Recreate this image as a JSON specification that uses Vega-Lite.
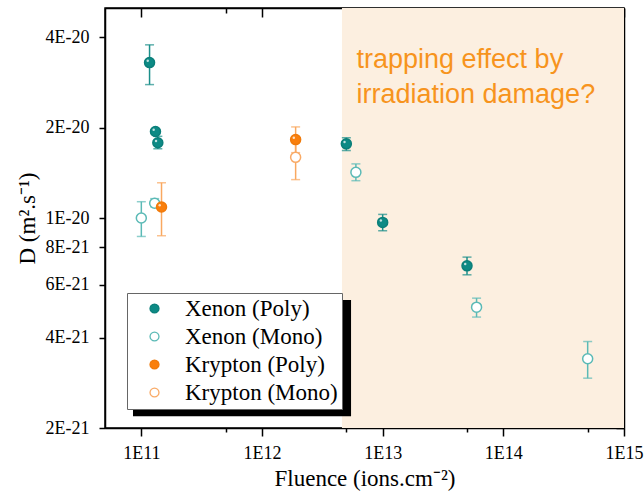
{
  "$schema": "https://vega.github.io/schema/vega-lite/v6.json",
  "width": 519,
  "height": 420,
  "autosize": "none",
  "padding": {"left": 105, "top": 8, "right": 20, "bottom": 63},
  "background": "white",
  "config": {
    "view": {"stroke": "black", "strokeWidth": 1.5},
    "font": "Liberation Serif",
    "axis": {
      "grid": false,
      "domainColor": "black",
      "domainWidth": 1.5,
      "tickColor": "black",
      "tickWidth": 1.5,
      "labelFont": "Liberation Serif",
      "labelFontSize": 18,
      "labelColor": "black",
      "titleFont": "Liberation Serif",
      "titleFontSize": 23,
      "titleFontWeight": "normal",
      "titleColor": "black"
    }
  },
  "datasets": {
    "pts": [
      {"series": "Xenon (Poly)", "F": 1.17e11, "D": 3.29e-20, "lo": 2.78e-20, "hi": 3.77e-20},
      {"series": "Xenon (Poly)", "F": 1.31e11, "D": 1.94e-20, "lo": 1.90e-20, "hi": 1.98e-20},
      {"series": "Xenon (Poly)", "F": 1.37e11, "D": 1.78e-20, "lo": 1.70e-20, "hi": 1.87e-20},
      {"series": "Xenon (Poly)", "F": 5.0e12, "D": 1.765e-20, "lo": 1.677e-20, "hi": 1.85e-20},
      {"series": "Xenon (Poly)", "F": 1.0e13, "D": 9.67e-21, "lo": 9.07e-21, "hi": 1.028e-20},
      {"series": "Xenon (Poly)", "F": 5.0e13, "D": 6.93e-21, "lo": 6.47e-21, "hi": 7.41e-21},
      {"series": "Xenon (Mono)", "F": 1.0e11, "D": 1.0e-20, "lo": 8.68e-21, "hi": 1.133e-20},
      {"series": "Xenon (Mono)", "F": 1.29e11, "D": 1.12e-20, "lo": 1.09e-20, "hi": 1.16e-20},
      {"series": "Xenon (Mono)", "F": 6.0e12, "D": 1.419e-20, "lo": 1.331e-20, "hi": 1.514e-20},
      {"series": "Xenon (Mono)", "F": 6.0e13, "D": 5.05e-21, "lo": 4.68e-21, "hi": 5.41e-21},
      {"series": "Xenon (Mono)", "F": 5.0e14, "D": 3.40e-21, "lo": 2.93e-21, "hi": 3.88e-21},
      {"series": "Krypton (Mono)", "F": 1.9e12, "D": 1.592e-20, "lo": 1.342e-20, "hi": 1.80e-20},
      {"series": "Krypton (Poly)", "F": 1.47e11, "D": 1.088e-20, "lo": 8.73e-21, "hi": 1.31e-20},
      {"series": "Krypton (Poly)", "F": 1.9e12, "D": 1.824e-20, "lo": 1.65e-20, "hi": 2.01e-20}
    ],
    "region": [{"x0": 4.6e12, "x1": 1e15, "y0": 2e-21, "y1": 5e-20}],
    "shadow": [{"x0": 8.53e10, "x1": 5.47e12, "y0": 2.19e-21, "y1": 5.33e-21}],
    "note": [{"F": 6.07e12, "D": 3.16e-20, "label": ["trapping effect by", "irradiation damage?"]}]
  },
  "resolve": {"axis": {"x": "independent", "y": "independent"}, "scale": {"color": "independent"}},
  "layer": [
    {
      "data": {"name": "region"},
      "mark": {"type": "rect", "color": "#fcefe0"},
      "encoding": {
        "x": {"field": "x0", "type": "quantitative",
          "scale": {"type": "log", "domain": [5e10, 1e15], "nice": false},
          "axis": {"orient": "top", "labels": false, "title": null,
            "values": [1e11, 5e11, 1e12, 5e12, 1e13, 5e13, 1e14, 5e14, 1e15],
            "tickSize": {"condition": {"test": "abs(log(datum.value)/LN10 - round(log(datum.value)/LN10)) < 0.01", "value": -9}, "value": -5}}},
        "x2": {"field": "x1"},
        "y": {"field": "y0", "type": "quantitative",
          "scale": {"type": "log", "domain": [2e-21, 5e-20], "nice": false},
          "axis": {"orient": "right", "labels": false, "title": null,
            "values": [2e-21, 4e-21, 6e-21, 8e-21, 1e-20, 2e-20, 4e-20], "tickSize": -8}},
        "y2": {"field": "y1"}
      }
    },
    {
      "data": {"name": "shadow"},
      "mark": {"type": "rect", "color": "black"},
      "encoding": {
        "x": {"field": "x0", "type": "quantitative", "scale": {"type": "log", "domain": [5e10, 1e15], "nice": false}, "axis": null},
        "x2": {"field": "x1"},
        "y": {"field": "y0", "type": "quantitative", "scale": {"type": "log", "domain": [2e-21, 5e-20], "nice": false}, "axis": null},
        "y2": {"field": "y1"}
      }
    },
    {
      "data": {"name": "note"},
      "mark": {"type": "text", "font": "Liberation Sans", "fontSize": 27, "color": "#f7941d", "align": "left", "baseline": "alphabetic", "lineHeight": 35},
      "encoding": {
        "x": {"field": "F", "type": "quantitative", "scale": {"type": "log", "domain": [5e10, 1e15], "nice": false}, "axis": null},
        "y": {"field": "D", "type": "quantitative", "scale": {"type": "log", "domain": [2e-21, 5e-20], "nice": false}, "axis": null},
        "text": {"field": "label"}
      }
    },
    {
      "data": {"name": "pts"},
      "mark": {"type": "errorbar", "ticks": {"size": 9, "thickness": 1.5}, "rule": {"strokeWidth": 1.5}},
      "encoding": {
        "x": {"field": "F", "type": "quantitative", "scale": {"type": "log", "domain": [5e10, 1e15], "nice": false}, "axis": null},
        "y": {"field": "lo", "type": "quantitative", "scale": {"type": "log", "domain": [2e-21, 5e-20], "nice": false}, "axis": null},
        "y2": {"field": "hi"},
        "color": {"field": "series", "type": "nominal",
          "scale": {"domain": ["Xenon (Poly)", "Xenon (Mono)", "Krypton (Poly)", "Krypton (Mono)"], "range": ["#1b8f8a", "#5bbab6", "#f9a860", "#f9a860"]},
          "legend": null}
      }
    },
    {
      "data": {"name": "pts"},
      "mark": {"type": "point", "shape": "circle", "size": 100, "strokeWidth": 1.5, "opacity": 1, "filled": false},
      "encoding": {
        "x": {"field": "F", "type": "quantitative", "scale": {"type": "log", "domain": [5e10, 1e15], "nice": false},
          "axis": {"orient": "bottom", "title": "Fluence (ions.cm⁻²)",
            "values": [1e11, 5e11, 1e12, 5e12, 1e13, 5e13, 1e14, 5e14, 1e15],
            "labelExpr": "abs(log(datum.value)/LN10 - round(log(datum.value)/LN10)) < 0.01 ? '1E' + round(log(datum.value)/LN10) : ''",
            "tickSize": {"condition": {"test": "abs(log(datum.value)/LN10 - round(log(datum.value)/LN10)) < 0.01", "value": 8}, "value": 4},
            "labelPadding": 8, "titlePadding": 5, "labelFlush": false, "labelOverlap": false}},
        "y": {"field": "D", "type": "quantitative", "scale": {"type": "log", "domain": [2e-21, 5e-20], "nice": false},
          "axis": {"orient": "left", "title": "D (m².s⁻¹)",
            "values": [2e-21, 4e-21, 6e-21, 8e-21, 1e-20, 2e-20, 4e-20],
            "labelExpr": "round(datum.value/pow(10, floor(log(datum.value)/LN10 + 1e-6))) + 'E' + floor(log(datum.value)/LN10 + 1e-6)",
            "tickSize": 6, "labelPadding": 10, "titlePadding": 6, "labelFlush": false, "labelOverlap": false}},
        "fill": {"field": "series", "type": "nominal",
          "scale": {"domain": ["Xenon (Poly)", "Xenon (Mono)", "Krypton (Poly)", "Krypton (Mono)"], "range": ["#0d8a85", "#ffffff", "#fa7f0c", "#ffffff"]},
          "legend": {"title": null, "orient": "none", "legendX": 22, "legendY": 285,
            "fillColor": "white", "strokeColor": "#666666", "padding": 4, "symbolOffset": 12,
            "labelFont": "Liberation Serif", "labelFontSize": 23, "labelColor": "black",
            "labelOffset": 19, "rowPadding": 4, "symbolSize": 80, "symbolStrokeWidth": 1.3, "symbolType": "circle"}},
        "stroke": {"field": "series", "type": "nominal",
          "scale": {"domain": ["Xenon (Poly)", "Xenon (Mono)", "Krypton (Poly)", "Krypton (Mono)"], "range": ["#0b7f7a", "#5bbab6", "#f07a0a", "#f9aa66"]},
          "legend": {"title": null, "orient": "none", "legendX": 22, "legendY": 285,
            "fillColor": "white", "strokeColor": "#666666", "padding": 4, "symbolOffset": 12,
            "labelFont": "Liberation Serif", "labelFontSize": 23, "labelColor": "black",
            "labelOffset": 19, "rowPadding": 4, "symbolSize": 80, "symbolStrokeWidth": 1.3, "symbolType": "circle"}}
      }
    },
    {
      "data": {"name": "pts"},
      "transform": [{"filter": "indexof(datum.series, 'Poly') >= 0"}],
      "mark": {"type": "point", "shape": "circle", "size": 6, "filled": true, "color": "white", "opacity": 0.75, "xOffset": -1.8, "yOffset": -1.8},
      "encoding": {
        "x": {"field": "F", "type": "quantitative", "scale": {"type": "log", "domain": [5e10, 1e15], "nice": false}, "axis": null},
        "y": {"field": "D", "type": "quantitative", "scale": {"type": "log", "domain": [2e-21, 5e-20], "nice": false}, "axis": null}
      }
    }
  ]
}
